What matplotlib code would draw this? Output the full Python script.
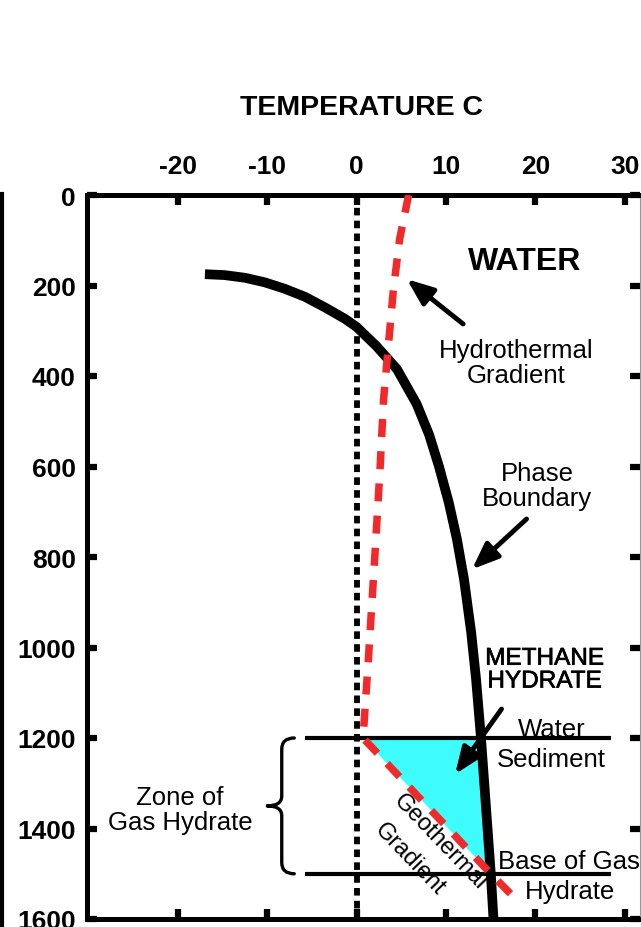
import numpy as np
import matplotlib
matplotlib.use("Agg")
import matplotlib.pyplot as plt
import matplotlib.patheffects as pe
from matplotlib.path import Path
from matplotlib.patches import PathPatch
from matplotlib.lines import Line2D

plt.rcParams["font.family"] = ["Liberation Sans", "DejaVu Sans"]
plt.rcParams["axes.unicode_minus"] = False

# methane hydrate phase boundary (temperature C, depth m)
phase_temp = [-17.0, -14.8, -12.5, -10.3, -8.1, -5.8, -3.6, -1.3, 0.0, 2.2, 4.5, 6.7,
              8.1, 9.2, 10.3, 11.2, 12.0, 12.8, 13.35, 13.9, 15.0, 15.3]
phase_depth = [175, 177, 183, 193, 207, 225, 248, 274, 292, 334, 385, 462,
               530, 600, 680, 760, 849, 966, 1070, 1200, 1500, 1600]

# hydrothermal gradient in the water column, then geothermal gradient in sediment
water_temp = [5.8, 4.8, 4.1, 3.6, 3.0, 2.6, 2.0, 1.3, 0.7]
water_depth = [0, 97, 208, 318, 451, 606, 804, 1025, 1200]
sed_temp = [0.7, 15.0, 17.6]
sed_depth = [1200, 1500, 1552]

seafloor = 1200
hydrate_base = 1500

x_ticks = [-20, -10, 0, 10, 20, 30]
y_ticks = [0, 200, 400, 600, 800, 1000, 1200, 1400, 1600]

fig = plt.figure(figsize=(6.41, 9.28), dpi=100)
ax = fig.add_axes([87 / 641, 1 - 920 / 928, (640 - 87) / 641, (920 - 196) / 928])
ax.set_xlim(-30.2, 31.7)
ax.set_ylim(1600, 0)

# hydrate stability zone between seafloor, geotherm and phase boundary
pb_t = np.array(phase_temp)
pb_d = np.array(phase_depth)
sel = (pb_d >= seafloor) & (pb_d <= hydrate_base)
poly_t = np.concatenate([pb_t[sel], sed_temp[:2][::-1]])
poly_d = np.concatenate([pb_d[sel], sed_depth[:2][::-1]])
ax.fill(poly_t, poly_d, color="#3ffcfc", lw=0, zorder=1)

# zero degree line
ax.plot([0, 0], [0, 1600], color="black", lw=4.2, dashes=(1.3, 0.9), zorder=3)

ax.hlines([seafloor, hydrate_base], -5.8, 28.5, color="black", lw=3.0, zorder=3)

ax.plot(phase_temp, phase_depth, color="black", lw=7, solid_capstyle="butt",
        solid_joinstyle="round", zorder=4)
ax.plot(water_temp + sed_temp[1:], water_depth + sed_depth[1:], color="#f02a2a",
        lw=5.4, dashes=(2.4, 1.9), zorder=5)

# curly brace marking the hydrate zone
xb_end, xb_mid, xb_tip = -7.0, -8.4, -10.0
mid = (seafloor + hydrate_base) / 2
verts = [(xb_end, seafloor), (xb_mid, seafloor), (xb_mid, seafloor + 25),
         (xb_mid, mid - 22), (xb_mid, mid), (xb_tip, mid),
         (xb_tip, mid), (xb_mid, mid), (xb_mid, mid + 22),
         (xb_mid, hydrate_base - 25), (xb_mid, hydrate_base), (xb_end, hydrate_base)]
codes = [Path.MOVETO, Path.CURVE3, Path.CURVE3,
         Path.LINETO, Path.CURVE3, Path.CURVE3,
         Path.MOVETO, Path.CURVE3, Path.CURVE3,
         Path.LINETO, Path.CURVE3, Path.CURVE3]
ax.add_patch(PathPatch(Path(verts, codes), fill=False, lw=2.4, color="black",
                       capstyle="round", zorder=3))

# labels
lbl = dict(fontsize=18.5, ha="center", va="center", zorder=2)
ax.text(18.8, 146, "WATER", fontsize=23, fontweight="bold", ha="center", va="center")
ax.text(17.8, 370, "Hydrothermal\nGradient", linespacing=1.05, **lbl)
ax.text(20.2, 642, "Phase\nBoundary", linespacing=1.05, **lbl)
ax.text(21.0, 1050, "METHANE\nHYDRATE", linespacing=1.05,
        path_effects=[pe.withStroke(linewidth=0.5, foreground="black")],
        **dict(lbl, fontsize=17.5))
ax.text(21.8, 1180, "Water", **lbl)
ax.text(21.8, 1246, "Sediment", **lbl)
ax.text(23.7, 1472, "Base of Gas", **lbl)
ax.text(23.9, 1538, "Hydrate", **lbl)
ax.text(-19.8, 1357, "Zone of\nGas Hydrate", linespacing=1.05, **lbl)
ax.text(9.3, 1428, "Geothermal", rotation=-46, rotation_mode="anchor",
        **dict(lbl, fontsize=17))
ax.text(5.9, 1467, "Gradient", rotation=-46, rotation_mode="anchor",
        **dict(lbl, fontsize=17))

arrow = dict(arrowstyle="-|>,head_length=0.8,head_width=0.32", lw=3.5, color="black",
             mutation_scale=20, shrinkA=0, shrinkB=0)
ax.annotate("", xy=(5.6, 186), xytext=(11.9, 285), arrowprops=arrow, zorder=6)
ax.annotate("", xy=(12.9, 827), xytext=(19.0, 716), arrowprops=arrow, zorder=6)
ax.annotate("", xy=(11.0, 1280), xytext=(16.2, 1136), arrowprops=arrow, zorder=6)

# axes frame and ticks
for side in ["top", "left", "bottom"]:
    ax.spines[side].set_linewidth(3.6)
ax.spines["right"].set_linewidth(0.8)
ax.spines["right"].set_color("#999999")
ax.set_xticks(x_ticks)
ax.set_yticks(y_ticks)
ax.tick_params(axis="both", direction="in", length=7, width=4.5, top=True, right=True,
               bottom=True, left=True, labelsize=19)
ax.tick_params(axis="x", labeltop=True, labelbottom=False, pad=12)
ax.tick_params(axis="y", pad=8)
for t in ax.get_xticklabels() + ax.get_yticklabels():
    t.set_fontweight("bold")

fig.text(362 / 641, 1 - 108 / 928, "TEMPERATURE C", fontsize=20.5, fontweight="bold",
         ha="center", va="center")
# depth axis bar at the left edge
fig.add_artist(Line2D([2 / 641, 2 / 641], [0, 1 - 195 / 928], color="black", lw=3.0))

fig.savefig("out.png", dpi=100)
